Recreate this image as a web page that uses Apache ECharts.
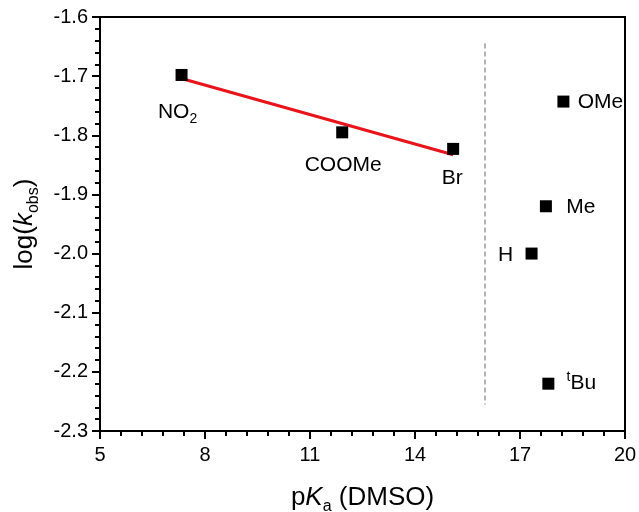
<!DOCTYPE html>
<html>
<head>
<meta charset="utf-8">
<script src="https://cdn.jsdelivr.net/npm/echarts@6/dist/echarts.min.js"></script>
<style>
  html, body { margin: 0; padding: 0; background: #fff; }
  #chart1 { width: 639px; height: 512px; }
</style>
</head>
<body>
<div id="chart1"></div>
<script>
// substituents, pKa (DMSO) and log(kobs)
var names = ['NO2', 'COOMe', 'Br', 'OMe', 'Me', 'H', 'tBu'];
var pKa = [7.33, 11.92, 15.09, 18.24, 17.74, 17.33, 17.81];
var logK = [-1.698, -1.795, -1.823, -1.743, -1.920, -2.000, -2.220];

// linear fit through the first three points
var fitX = [7.33, 15.09];
var fitY = [-1.704, -1.833];

// dashed separator
var sepX = [16, 16];
var sepY = [-1.645, -2.255];

// label offsets from the marker centre (px)
var labelOffset = [[-4, 37], [1, 33], [-1, 29], [37, 1], [35, 1], [-26, 2], [33, 0]];

var labelText = {
  'NO2': 'NO{sub|2}',
  'tBu': '{sup|t}Bu'
};

document.addEventListener('DOMContentLoaded', function () {
  var myChart = echarts.init(document.getElementById('chart1'));
  var font = 'Liberation Sans, Arial, sans-serif';

  var points = names.map(function (n, i) {
    return {
      name: n,
      value: [pKa[i], logK[i]],
      label: { offset: labelOffset[i] }
    };
  });

  var option = {
    animation: false,
    grid: {
      left: 100, right: 14, top: 17, bottom: 81,
      outerBoundsMode: 'none',
      show: true,
      borderColor: '#000',
      borderWidth: 2
    },
    xAxis: {
      type: 'value',
      min: 5, max: 20, interval: 3,
      name: 'p{i|K}{sub|a} (DMSO)',
      nameLocation: 'middle',
      nameGap: 50,
      nameTextStyle: {
        fontFamily: font, fontSize: 26, color: '#000', lineHeight: 34,
        rich: {
          i: { fontFamily: font, fontSize: 26, fontStyle: 'italic', color: '#000' },
          sub: { fontFamily: font, fontSize: 16, lineHeight: 16, verticalAlign: 'bottom', color: '#000' }
        }
      },
      axisLine: { onZero: false, lineStyle: { color: '#000', width: 2 } },
      axisTick: { inside: false, length: 8, lineStyle: { color: '#000', width: 2 } },
      minorTick: { show: true, splitNumber: 5, length: 5, lineStyle: { color: '#000', width: 2 } },
      axisLabel: { margin: 14, fontFamily: font, fontSize: 20, color: '#000' },
      splitLine: { show: false }
    },
    yAxis: {
      type: 'value',
      min: -2.3, max: -1.6, interval: 0.1,
      name: 'log({i|k}{sub|obs})',
      nameLocation: 'middle',
      nameGap: 58,
      nameTextStyle: {
        fontFamily: font, fontSize: 26, color: '#000', lineHeight: 34,
        rich: {
          i: { fontFamily: font, fontSize: 26, fontStyle: 'italic', color: '#000' },
          sub: { fontFamily: font, fontSize: 16, lineHeight: 16, verticalAlign: 'bottom', color: '#000' }
        }
      },
      axisLine: { onZero: false, lineStyle: { color: '#000', width: 2 } },
      axisTick: { inside: false, length: 8, lineStyle: { color: '#000', width: 2 } },
      minorTick: { show: true, splitNumber: 5, length: 5, lineStyle: { color: '#000', width: 2 } },
      axisLabel: {
        margin: 12, fontFamily: font, fontSize: 20, color: '#000',
        formatter: function (v) { return v.toFixed(1); }
      },
      splitLine: { show: false }
    },
    series: [
      {
        type: 'line',
        data: sepX.map(function (x, i) { return [x, sepY[i]]; }),
        symbol: 'none',
        lineStyle: { color: '#9a9a9a', width: 1.5, type: [5, 3] },
        silent: true,
        z: 1
      },
      {
        type: 'line',
        data: fitX.map(function (x, i) { return [x, fitY[i]]; }),
        symbol: 'none',
        lineStyle: { color: '#e8141c', width: 3 },
        silent: true,
        z: 2
      },
      {
        type: 'scatter',
        data: points,
        symbol: 'rect',
        symbolSize: 12,
        itemStyle: { color: '#000', opacity: 1 },
        z: 3,
        label: {
          show: true,
          position: 'inside',
          fontFamily: font,
          fontSize: 21,
          lineHeight: 28,
          color: '#000',
          formatter: function (p) { return labelText[p.name] || p.name; },
          rich: {
            sub: { fontFamily: font, fontSize: 14, lineHeight: 14, verticalAlign: 'bottom', color: '#000' },
            sup: { fontFamily: font, fontSize: 14, lineHeight: 14, verticalAlign: 'top', color: '#000' }
          }
        }
      }
    ]
  };

  myChart.setOption(option);
});
</script>
</body>
</html>
